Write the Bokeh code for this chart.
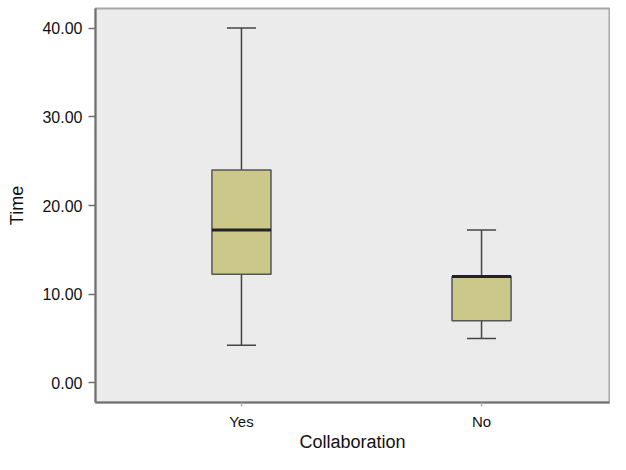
from bokeh.plotting import figure
from bokeh.models import Range1d, FixedTicker, PrintfTickFormatter, ColumnDataSource
from bokeh.embed import file_html
from bokeh.resources import INLINE

categories = ["Yes", "No"]
whisker_low = [4.25, 5.0]
q1 = [12.25, 7.0]
median = [17.25, 12.0]
q3 = [24.0, 12.0]
whisker_high = [40.0, 17.25]
y_ticks = [0, 10, 20, 30, 40]

box_w = 0.246
cap_w = 0.121
xs = list(range(len(categories)))

src = ColumnDataSource(dict(
    x=xs,
    xl=[x - box_w / 2 for x in xs], xr=[x + box_w / 2 for x in xs],
    cl=[x - cap_w / 2 for x in xs], cr=[x + cap_w / 2 for x in xs],
    lo=whisker_low, q1=q1, med=median, q3=q3, hi=whisker_high,
))

y0, y1 = -2.2, 42.2
p = figure(width=610, height=454, output_backend="svg", toolbar_location=None,
           x_range=Range1d(-0.608, 1.533), y_range=Range1d(y0, y1),
           min_border_left=95, min_border_top=8, min_border_right=1, min_border_bottom=50)

p.background_fill_color = "#ebebeb"
p.border_fill_color = "white"
p.outline_line_color = "#a8a8a8"
p.outline_line_width = 2
p.xgrid.visible = False
p.ygrid.visible = False

# whiskers
p.segment(x0="x", y0="q3", x1="x", y1="hi", source=src, line_color="#444444", line_width=1.5)
p.segment(x0="x", y0="lo", x1="x", y1="q1", source=src, line_color="#444444", line_width=1.5)
p.segment(x0="cl", y0="hi", x1="cr", y1="hi", source=src, line_color="#444444", line_width=1.5)
p.segment(x0="cl", y0="lo", x1="cr", y1="lo", source=src, line_color="#444444", line_width=1.5)
# boxes
p.vbar(x="x", width=box_w, top="q3", bottom="q1", source=src,
       fill_color="#cbc88a", line_color="#555555", line_width=1.5)
# medians
p.segment(x0="xl", y0="med", x1="xr", y1="med", source=src, line_color="#222222", line_width=3)

# axes
p.yaxis.ticker = FixedTicker(ticks=y_ticks)
p.yaxis.formatter = PrintfTickFormatter(format="%.2f")
p.yaxis.axis_label = "Time"
p.xaxis.ticker = FixedTicker(ticks=xs)
p.xaxis.major_label_overrides = {x: c for x, c in zip(xs, categories)}
p.xaxis.axis_label = "Collaboration"

for ax in (p.xaxis[0], p.yaxis[0]):
    ax.axis_line_color = "#707070"
    ax.axis_line_width = 2
    ax.major_tick_line_color = "#707070"
    ax.major_tick_line_width = 1.5
    ax.major_tick_in = 0
    ax.minor_tick_line_color = None
    ax.major_label_text_font = "Liberation Sans"
    ax.major_label_text_color = "#111111"
    ax.axis_label_text_font = "Liberation Sans"
    ax.axis_label_text_font_size = "18px"
    ax.axis_label_text_font_style = "normal"
    ax.axis_label_text_color = "#111111"

p.yaxis.major_label_text_font_size = "16px"
p.xaxis.major_label_text_font_size = "15px"
p.yaxis.major_tick_out = 7
p.yaxis.major_label_standoff = 6
p.yaxis.axis_label_standoff = 12
p.xaxis.major_tick_out = 4
p.xaxis.major_tick_line_color = "#b0b0b0"
p.xaxis.major_label_standoff = 6
p.xaxis.axis_label_standoff = -1

open("out.html", "w").write(file_html(p, INLINE))
